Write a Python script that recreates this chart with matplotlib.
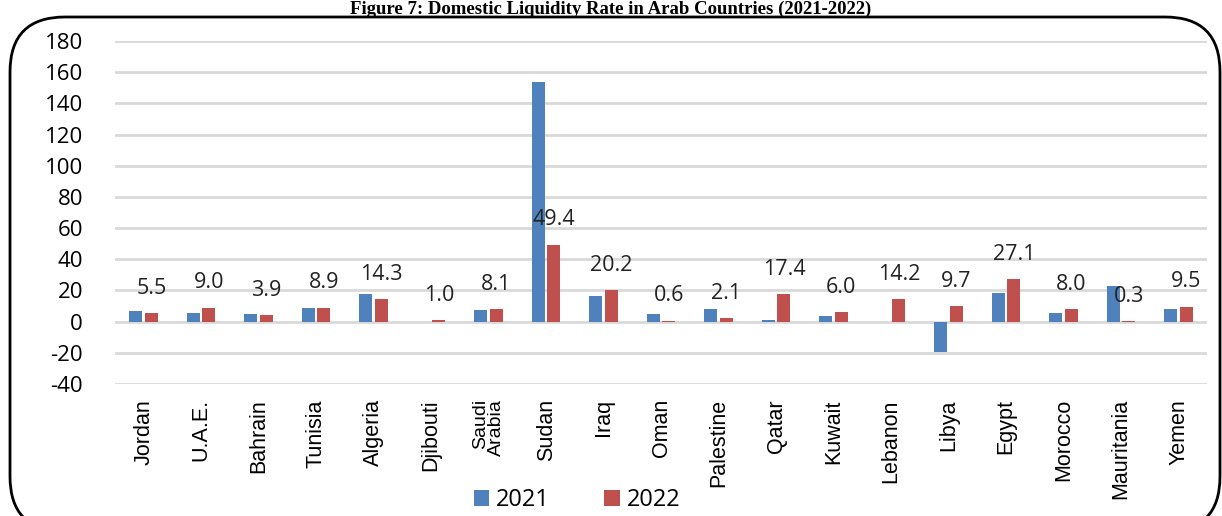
import numpy as np
import matplotlib.pyplot as plt
from matplotlib.patches import FancyBboxPatch

countries = ['Jordan', 'U.A.E.', 'Bahrain', 'Tunisia', 'Algeria', 'Djibouti',
             'Saudi\nArabia', 'Sudan', 'Iraq', 'Oman', 'Palestine', 'Qatar',
             'Kuwait', 'Lebanon', 'Libya', 'Egypt', 'Morocco', 'Mauritania', 'Yemen']
rate_2021 = [6.9, 5.8, 4.7, 9.0, 17.7, 0.0, 7.5, 153.4, 16.7, 4.7, 8.3, 1.0,
             3.8, 0.0, -19.6, 18.6, 5.4, 23.1, 7.9]
rate_2022 = [5.5, 9.0, 3.9, 8.9, 14.3, 1.0, 8.1, 49.4, 20.2, 0.6, 2.1, 17.4,
             6.0, 14.2, 9.7, 27.1, 8.0, 0.3, 9.5]
yticks = list(range(-40, 181, 20))

blue = '#4f81bd'
red = '#c0504d'

fig = plt.figure(figsize=(12.22, 5.16), dpi=100)
ax = fig.add_axes([0.094, 0.256, 0.894, 0.6645])

x = np.arange(len(countries))
w = 0.225
ax.bar(x - 0.135, rate_2021, w, color=blue, label='2021', zorder=3)
ax.bar(x + 0.135, rate_2022, w, color=red, label='2022', zorder=3)

# data labels only for 2022, floating above the red bar
for xi, v in zip(x, rate_2022):
    ax.text(xi + 0.135, v + 16, f'{v:.1f}', ha='center', va='center',
            fontsize=15.5, family='Open Sans', color='#222222', zorder=4)

ax.set_xlim(-0.5, len(countries) - 0.5)
ax.set_ylim(-40, 180)
ax.set_yticks(yticks)
ax.set_yticklabels([str(t) for t in yticks], family='Open Sans', fontsize=16)
ax.yaxis.grid(True, color='#d9d9d9', linewidth=2, zorder=0)
ax.set_axisbelow(True)
for s in ax.spines.values():
    s.set_visible(False)
ax.tick_params(axis='both', length=0)
ax.tick_params(axis='y', pad=23)
ax.set_xticks(x)
ax.set_xticklabels(countries, rotation=90, va='top', ha='center',
                   family='Liberation Sans', fontsize=15.5, multialignment='right')
for lab in ax.get_xticklabels():
    if '\n' in lab.get_text():
        lab.set_fontsize(14)
        lab.set_linespacing(0.9)
ax.tick_params(axis='x', pad=11)

fig.legend(loc='center', bbox_to_anchor=(577 / 1222, 1 - 500 / 516), ncol=2,
           frameon=False, prop={'family': 'Open Sans', 'size': 17},
           handlelength=0.65, handleheight=0.65, handletextpad=0.3,
           columnspacing=2.3)

box = FancyBboxPatch((10 / 1222, -0.03), 1210 / 1222, 1 - 17 / 516 + 0.03,
                     boxstyle='round,pad=0,rounding_size=0.045',
                     transform=fig.transFigure, fill=False,
                     edgecolor='black', linewidth=2, mutation_aspect=2.37)
fig.patches.append(box)

fig.text(0.5, 1 - 1 / 516, 'Figure 7: Domestic Liquidity Rate in Arab Countries (2021-2022)',
         ha='center', va='top', family='Liberation Serif', weight='bold', fontsize=13.5)

fig.savefig('out.png', dpi=100)
